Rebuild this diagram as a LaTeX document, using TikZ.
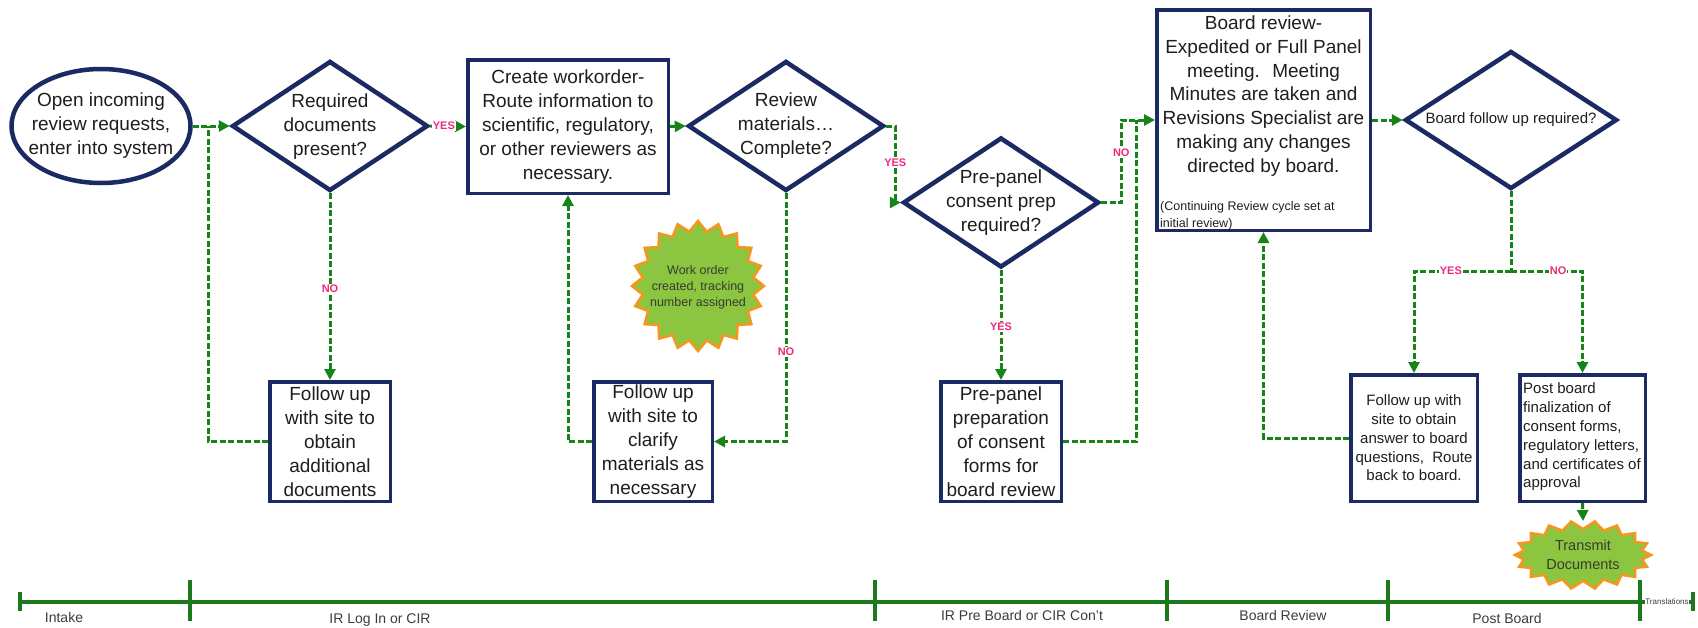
\documentclass[tikz,border=0pt]{standalone}
\usepackage{fontspec}
\setmainfont{Liberation Sans}
\usetikzlibrary{shapes.geometric,arrows.meta,calc}

\definecolor{navy}{RGB}{27,42,98}
\definecolor{flowgreen}{RGB}{22,132,22}
\definecolor{axisgreen}{RGB}{28,120,28}
\definecolor{answer}{RGB}{238,42,123}
\definecolor{burstfill}{RGB}{140,197,64}
\definecolor{burstedge}{RGB}{246,150,30}
\definecolor{inktext}{RGB}{30,30,30}
\definecolor{bursttext}{RGB}{55,60,50}
\definecolor{phasetext}{RGB}{60,60,60}

% star-shaped badge: centre x, centre y, radius x, radius y, points, spike depth
\newcommand\drawburst[6]{%
  \pgfmathtruncatemacro\burstlast{2*#5-1}%
  \draw[burstline] ({#1+#3},{#2})
    \foreach \k in {1,...,\burstlast}{
      -- ({#1+(#3-mod(\k,2)*#6)*cos(\k*180/#5)},{#2+(#4-mod(\k,2)*#6)*sin(\k*180/#5)})
    } -- cycle;}

\tikzset{
  every node/.style={text=inktext},
  box/.style={draw=navy, line width=3.5pt, fill=white, rectangle, inner sep=0pt,
    font=\fontsize{19}{24}\selectfont, align=center},
  smallbox/.style={box, font=\fontsize{15}{18.8}\selectfont},
  dia/.style={draw=navy, line width=4.5pt, diamond, fill=white, inner sep=0pt},
  startshape/.style={draw=navy, line width=4.5pt, ellipse, fill=white, inner sep=0pt},
  bodytext/.style={font=\fontsize{19}{24}\selectfont, align=center, inner sep=0pt},
  flow/.style={draw=flowgreen, line width=3pt, dash pattern=on 6pt off 2.5pt},
  flowarrow/.style={flow, -{Triangle[length=11pt,width=11pt]}},
  answerlabel/.style={font=\fontsize{11}{11}\selectfont\bfseries, text=answer,
    fill=white, inner sep=1pt},
  burstline/.style={draw=burstedge, fill=burstfill, line width=2.5pt, line join=miter},
  bursttxt/.style={text=bursttext, align=center, inner sep=0pt},
  phase/.style={font=\fontsize{14}{14}\selectfont, text=phasetext, inner sep=0pt},
  axis/.style={draw=axisgreen, line width=3.5pt},
}

\begin{document}
\begin{tikzpicture}[x=1pt, y=-1pt]
\useasboundingbox (0,0) rectangle (1698,627);

% ---------- process shapes ----------
\node[startshape, minimum width=179pt, minimum height=114pt] (start) at (101,126) {};
\node[bodytext] (starttxt) at (101,126) {Open incoming\\review requests,\\enter into system};

\node[dia, minimum width=196pt, minimum height=130pt] (d1) at (330,126) {};
\node[bodytext] (d1txt) at (330,127) {Required\\documents\\present?};

\node[box, minimum width=200.5pt, minimum height=133.5pt] (b1) at (568,126.5)
  {Create workorder-\\Route information to\\scientific, regulatory,\\or other reviewers as\\necessary.};

\node[dia, minimum width=196pt, minimum height=130pt] (d2) at (786,126) {};
\node[bodytext] (d2txt) at (786,126) {Review\\materials\ldots\\Complete?};

\node[dia, minimum width=196pt, minimum height=130pt] (d3) at (1001,202.5) {};
\node[bodytext] (d3txt) at (1001,203) {Pre-panel\\consent prep\\required?};

\node[box, minimum width=213.5pt, minimum height=220.5pt] (bb) at (1263.5,120) {};
\node[bodytext, font=\fontsize{19}{23.7}\selectfont] (bbtxt) at (1263.5,96)
  {Board review-\\Expedited or Full Panel\\meeting.~ Meeting\\Minutes are taken and\\Revisions Specialist are\\making any changes\\directed by board.};
\node[anchor=west, align=left, inner sep=0pt, font=\fontsize{12.5}{17}\selectfont] (bbnote)
  at (1160,215.5) {(Continuing Review cycle set at\\initial review)};

\node[dia, minimum width=212pt, minimum height=138pt] (d4) at (1511,120) {};
\node[inner sep=0pt, font=\fontsize{15}{18}\selectfont] (d4txt) at (1511,120) {Board follow up required?};

\node[box, minimum width=120.5pt, minimum height=119.5pt] (f1) at (330,441.5)
  {Follow up\\with site to\\obtain\\additional\\documents};
\node[box, minimum width=118.5pt, minimum height=119.5pt] (f2) at (653,441.5)
  {Follow up\\with site to\\clarify\\materials as\\necessary};
\node[box, minimum width=120.5pt, minimum height=119.5pt] (pp) at (1001,441.5)
  {Pre-panel\\preparation\\of consent\\forms for\\board review};
\node[smallbox, minimum width=126.5pt, minimum height=126.5pt] (f3) at (1414,438)
  {Follow up with\\site to obtain\\answer to board\\questions,~ Route\\back to board.};
\node[smallbox, minimum width=125.5pt, minimum height=126.5pt] (pb) at (1582.5,438) {};
\node[anchor=west, align=left, inner sep=0pt, font=\fontsize{15}{18.8}\selectfont] (pbtxt)
  at (1523,437) {Post board\\finalization of\\consent forms,\\regulatory letters,\\and certificates of\\approval};

% ---------- phase axis ----------
\coordinate (ax0) at (20,602);
\coordinate (ax1) at (1693,602);
\draw[axis] (ax0) -- (ax1);
\draw[axis] (20,592) -- (20,611);
\draw[axis] (1693,592) -- (1693,611);
\foreach \x in {190,875,1167,1388,1640} \draw[axis] (\x,580) -- (\x,621);

\node[phase] (ph1) at (64,617) {Intake};
\node[phase] (ph2) at (380,620) {IR Log In or CIR};
\node[phase] (ph3) at (1022,615) {IR Pre Board or CIR Con't};
\node[phase] (ph4) at (1283,615) {Board Review};
\node[phase] (ph5) at (1507,618) {Post Board};
\node[phase, font=\fontsize{8}{8}\selectfont, fill=white, inner sep=0.5pt] (ph6) at (1667,602) {Translations};

% ---------- badges ----------
\drawburst{698}{286}{66}{65}{20}{10}
\node[bursttxt, font=\fontsize{12.5}{16}\selectfont] (worktxt) at (698,287)
  {Work order\\created, tracking\\number assigned};

\drawburst{1583}{555}{68}{34}{18}{8}
\node[bursttxt, font=\fontsize{14.5}{19}\selectfont] (transmittxt) at (1583,555)
  {Transmit\\Documents};
\coordinate (tmtop) at (1583,521);

% ---------- connectors ----------
\coordinate (j1) at (208,126);
\coordinate (j2) at (1136,120);
\coordinate (j3) at (1511,271);

\draw[flowarrow] (start.east) -- (d1.west);
\draw[flowarrow] (d1.east) -- node[answerlabel, pos=0.38] (yes1) {YES} (b1.west);
\draw[flowarrow] (d1.south) -- node[answerlabel, pos=0.51] (no1) {NO} (f1.north);
\draw[flow] (f1.west) -| (j1);

\draw[flowarrow] (b1.east) -- (d2.west);
\draw[flowarrow] (d2.south) |- node[answerlabel, pos=0.32] (no2) {NO} (f2.east);
\draw[flowarrow] (f2.west) -| (b1.south);
\draw[flowarrow] (d2.east) -- ++(9,0) |- node[answerlabel, pos=0.24] (yes2) {YES} (d3.west);

\draw[flowarrow] (d3.south) -- node[answerlabel, pos=0.52] (yes3) {YES} (pp.north);
\draw[flowarrow] (d3.east) -- ++(20,0) |- node[answerlabel, pos=0.3] (no3) {NO} (bb.west);
\draw[flow] (pp.east) -| (j2);

\draw[flowarrow] (bb.east) -- (d4.west);
\draw[flow] (d4.south) -- (j3);
\draw[flowarrow] (j3) -| node[answerlabel, pos=0.31] (yes4) {YES} (f3.north);
\draw[flowarrow] (j3) -| node[answerlabel, pos=0.33] (no4) {NO} (pb.north);
\draw[flowarrow] (f3.west) -| (bb.south);
\draw[flowarrow] (pb.south) -- (tmtop);

\end{tikzpicture}
\end{document}
